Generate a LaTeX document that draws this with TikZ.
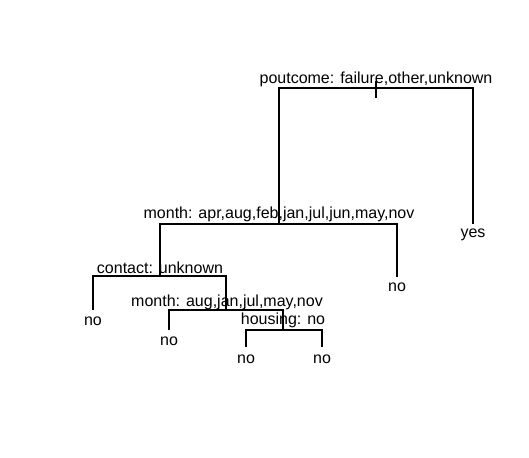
\documentclass[tikz,border=0pt]{standalone}
\usepackage{fontspec}
\setmainfont{Liberation Sans}
\begin{document}
\begin{tikzpicture}[x=1pt,y=-1pt,
  edge/.style={draw=black,line width=1.1pt},
  lbl/.style={anchor=base,inner sep=0pt,font=\fontsize{16}{19}\selectfont}]
\useasboundingbox (0,0) rectangle (529,457);
% tree node positions (split bars / leaf ends)
\coordinate (n1) at (376,88);
\coordinate (n1top) at (376,81);
\coordinate (n1bot) at (376,98);
\coordinate (n2) at (279,224);
\coordinate (n3) at (473,224);
\coordinate (n4) at (160,276);
\coordinate (n5) at (397,277);
\coordinate (n8) at (93,310);
\coordinate (n9) at (226,310);
\coordinate (n18) at (169,330);
\coordinate (n19) at (283,330);
\coordinate (n38) at (246,347);
\coordinate (n39) at (322,347);
% edges
\draw[edge] (n1top) -- (n1bot);
\draw[edge] (n2) |- (n1);
\draw[edge] (n3) |- (n1);
\draw[edge] (n4) |- (n2);
\draw[edge] (n5) |- (n2);
\draw[edge] (n8) |- (n4);
\draw[edge] (n9) |- (n4);
\draw[edge] (n18) |- (n9);
\draw[edge] (n19) |- (n9);
\draw[edge] (n38) |- (n19);
\draw[edge] (n39) |- (n19);
% labels
\node[lbl] (l1) at (376,84) {poutcome: failure,other,unknown};
\node[lbl] (l2) at (279,218) {month: apr,aug,feb,jan,jul,jun,may,nov};
\node[lbl] (l3) at (473,237) {yes};
\node[lbl] (l4) at (160,273) {contact: unknown};
\node[lbl] (l5) at (397,291) {no};
\node[lbl] (l8) at (93,325) {no};
\node[lbl] (l9) at (227,306) {month: aug,jan,jul,may,nov};
\node[lbl] (l18) at (169,345) {no};
\node[lbl] (l19) at (283,324) {housing: no};
\node[lbl] (l38) at (246,363) {no};
\node[lbl] (l39) at (322,363) {no};
\end{tikzpicture}
\end{document}
